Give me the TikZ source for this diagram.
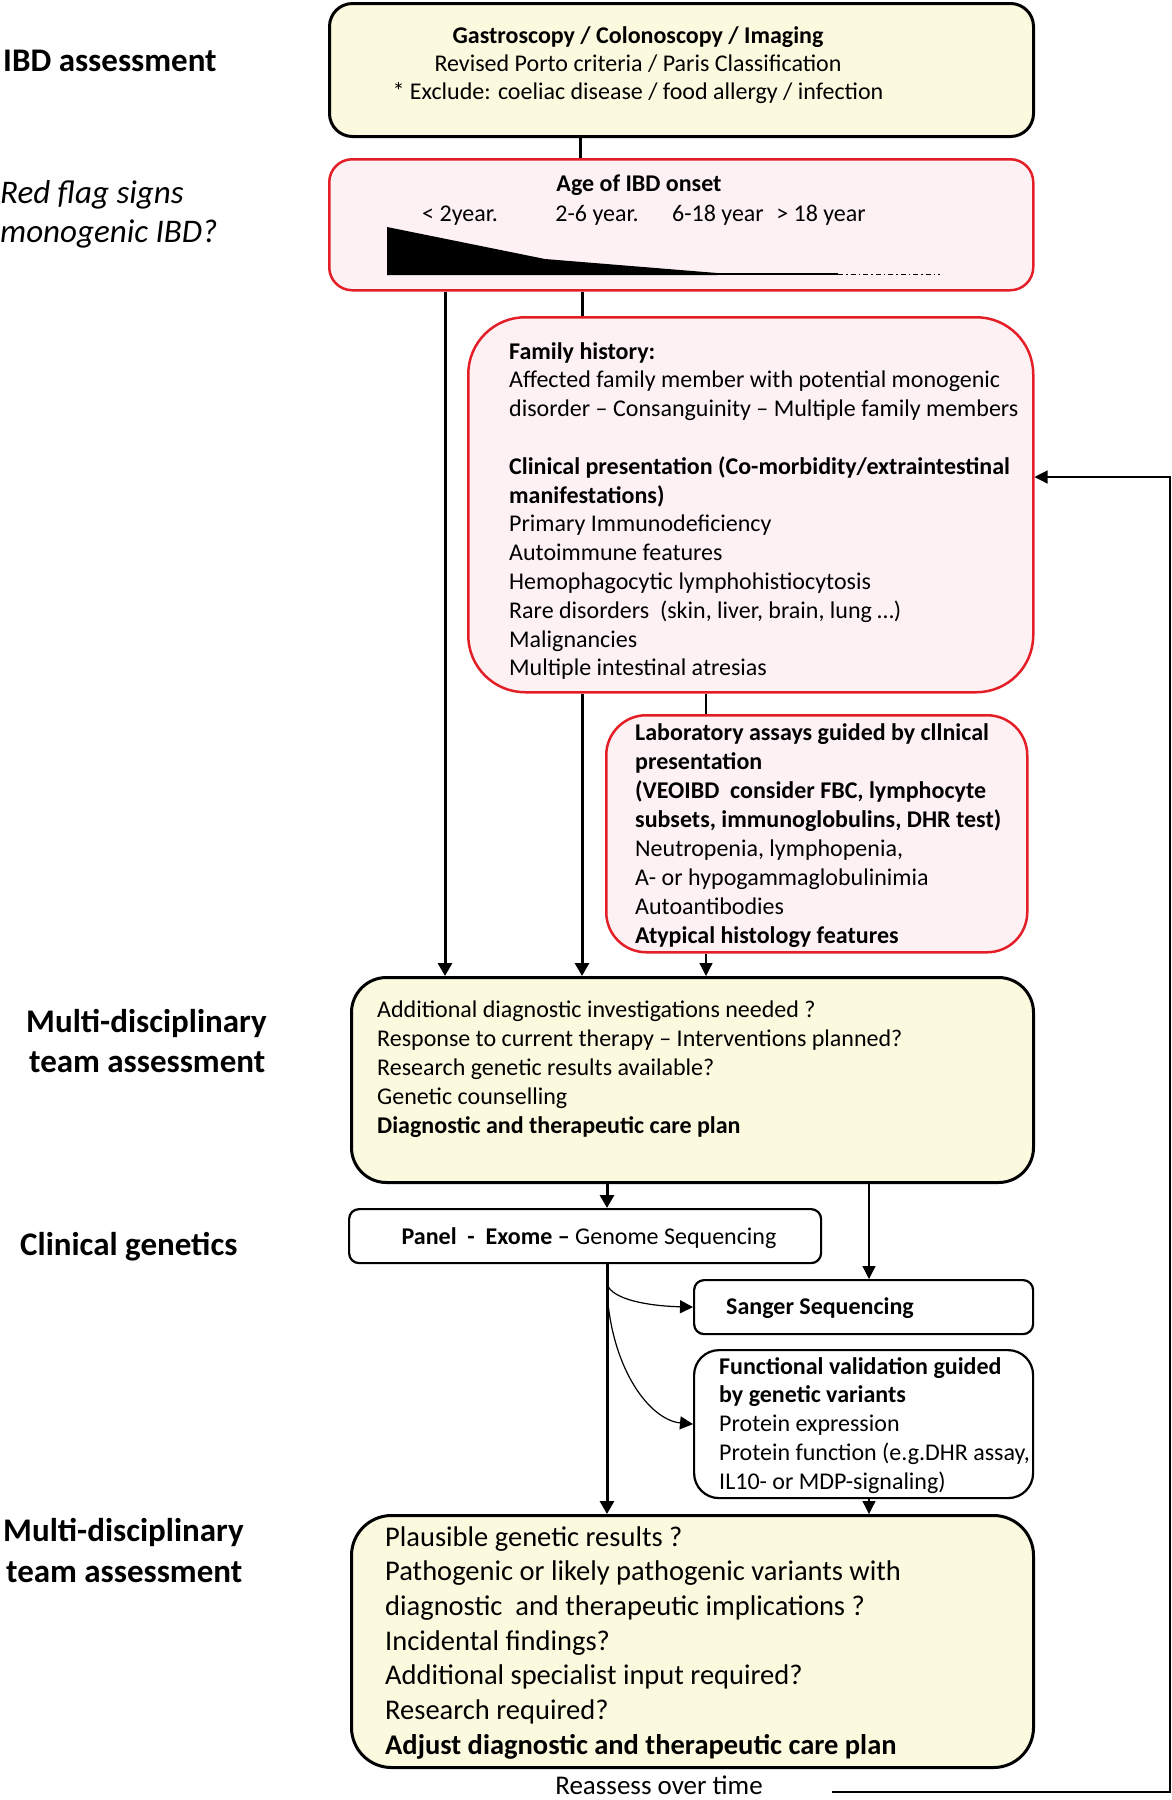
\documentclass[tikz,border=0pt]{standalone}
\usepackage{fontspec}
\setmainfont{Carlito}
\usetikzlibrary{arrows.meta}
\definecolor{cream}{RGB}{251,249,222}
\definecolor{pinkfill}{RGB}{253,241,244}
\definecolor{redline}{RGB}{228,30,38}
\begin{document}
\begin{tikzpicture}[x=1pt,y=-1pt,
  ybox/.style={draw=black, line width=3pt, fill=cream, inner sep=0, anchor=north west},
  rbox/.style={draw=redline, line width=2.5pt, fill=pinkfill, inner sep=0, anchor=north west},
  wbox/.style={draw=black, line width=2.2pt, fill=white, inner sep=0, anchor=north west},
  txt/.style={inner sep=0, anchor=base west, font=\fontsize{24}{28}\selectfont},
  txtS/.style={inner sep=0, anchor=base, font=\fontsize{24}{28}\selectfont},
  txtL/.style={inner sep=0, anchor=base west, font=\fontsize{28.5}{33}\selectfont},
  lbl/.style={inner sep=0, anchor=base west, font=\fontsize{33}{38}\selectfont},
  thickarr/.style={line width=3pt, -{Triangle[length=13pt,width=14pt]}},
  thickln/.style={line width=3pt},
  thinarr/.style={line width=1.2pt, -{Triangle[length=13pt,width=13pt]}},
  thinln/.style={line width=1.2pt}]
\useasboundingbox (0,0) rectangle (1172,1800);

% columns
\coordinate (colA) at (445,0);
\coordinate (colB) at (582,0);
\coordinate (colC) at (706,0);
\coordinate (colD) at (607,0);
\coordinate (colE) at (869,0);
\coordinate (colF) at (580,0);

% boxes
\node[ybox, rounded corners=23pt, minimum width=704pt, minimum height=133pt] (b1) at (328,2) {};
\node[rbox, rounded corners=23pt, minimum width=704pt, minimum height=131pt] (b2) at (328,158) {};
\node[rbox, rounded corners=57pt, minimum width=565pt, minimum height=375pt] (fam) at (467,316) {};
\node[rbox, rounded corners=40pt, minimum width=421pt, minimum height=237pt] (lab) at (605,714) {};
\node[ybox, rounded corners=35pt, minimum width=682pt, minimum height=205pt] (mdt1) at (350,976) {};
\node[wbox, rounded corners=10pt, minimum width=472pt, minimum height=54pt] (panel) at (348,1208) {};
\node[wbox, rounded corners=10pt, minimum width=339pt, minimum height=54pt] (sanger) at (693,1279) {};
\node[wbox, rounded corners=25pt, minimum width=339pt, minimum height=148pt] (func) at (693,1349) {};
\node[ybox, rounded corners=40pt, minimum width=682pt, minimum height=252pt] (mdt2) at (350,1514) {};

% left labels
\node[lbl] (l1) at (3,71) {\bfseries IBD assessment};
\node[lbl] (l2a) at (0,203) {\itshape Red flag signs};
\node[lbl] (l2b) at (0,242) {\itshape monogenic IBD?};
\node[lbl] (l3a) at (26,1032) {\bfseries Multi-disciplinary};
\node[lbl] (l3b) at (29,1072) {\bfseries team assessment};
\node[lbl] (l4) at (20,1255) {\bfseries Clinical genetics};
\node[lbl] (l5a) at (3,1541) {\bfseries Multi-disciplinary};
\node[lbl] (l5b) at (6,1582) {\bfseries team assessment};

% box 1 text
\node[txtS] (t1a) at (638,43) {\bfseries Gastroscopy / Colonoscopy / Imaging};
\node[txtS] (t1b) at (638,71) {Revised Porto criteria / Paris Classification};
\node[txtS] (t1c) at (638,99) {* Exclude: coeliac disease / food allergy / infection};

% box 2 text
\node[txtS] (t2a) at (639,191) {\bfseries Age of IBD onset};
\node[txtS] (t2b) at (460,221) {< 2year.};
\node[txtS] (t2c) at (597,221) {2-6 year.};
\node[txtS] (t2d) at (718,221) {6-18 year};
\node[txtS] (t2e) at (821,221) {> 18 year};
\fill (387,227) -- (545,259) -- (717,273) -- (717,275) -- (387,275) -- cycle;
\draw[line width=1.8pt] (716,274) -- (838,274);
\draw[line width=1pt, dash pattern=on 5pt off 3pt on 1.5pt off 3pt] (838,274) -- (940,274);

% family box text
\foreach \t [count=\i] in {{\bfseries Family history:},
  {Affected family member with potential monogenic},
  {disorder – Consanguinity – Multiple family members}}
  \node[txt] (fa\i) at (509,{359+(\i-1)*28.8}) {\t};
\foreach \t [count=\i] in {{\bfseries Clinical presentation (Co-morbidity/extraintestinal},
  {\bfseries manifestations)},
  {Primary Immunodeficiency},
  {Autoimmune features},
  {Hemophagocytic lymphohistiocytosis},
  {Rare disorders\ \ (skin, liver, brain, lung …)},
  {Malignancies},
  {Multiple intestinal atresias}}
  \node[txt] (fb\i) at (509,{474.2+(\i-1)*28.8}) {\t};

% lab box text
\foreach \t [count=\i] in {{\bfseries Laboratory assays guided by cllnical},
  {\bfseries presentation},
  {\bfseries (VEOIBD\ \ consider FBC, lymphocyte},
  {\bfseries subsets, immunoglobulins, DHR test)},
  {Neutropenia, lymphopenia,},
  {A- or hypogammaglobulinimia},
  {Autoantibodies},
  {\bfseries Atypical histology features}}
  \node[txt] (la\i) at (635,{740+(\i-1)*29}) {\t};

% mdt1 text
\foreach \t [count=\i] in {{Additional diagnostic investigations needed ?},
  {Response to current therapy – Interventions planned?},
  {Research genetic results available?},
  {Genetic counselling},
  {\bfseries Diagnostic and therapeutic care plan}}
  \node[txt] (ma\i) at (377,{1017+(\i-1)*29}) {\t};

% panel, sanger, functional
\node[txt, anchor=base] (pt) at (589,1244) {\textbf{Panel\ \ -\ \ Exome –} Genome Sequencing};
\node[txt] (st) at (726,1314) {\bfseries Sanger Sequencing};
\foreach \t [count=\i] in {{\bfseries Functional validation guided},
  {\bfseries by genetic variants},
  {Protein expression},
  {Protein function (e.g.DHR assay,},
  {IL10- or MDP-signaling)}}
  \node[txt] (fu\i) at (719,{1374+(\i-1)*28.75}) {\t};

% mdt2 text
\foreach \t [count=\i] in {{Plausible genetic results ?},
  {Pathogenic or likely pathogenic variants with},
  {diagnostic\ \ and therapeutic implications ?},
  {Incidental findings?},
  {Additional specialist input required?},
  {Research required?},
  {\bfseries Adjust diagnostic and therapeutic care plan}}
  \node[txtL] (mb\i) at (385,{1546+(\i-1)*34.7}) {\t};

\node[txt, anchor=base, font=\fontsize{27}{31}\selectfont] (reassess) at (659,1794) {Reassess over time};

% connectors
\draw[thickln] (b1.south -| colF) -- (b2.north -| colF);
\draw[thickarr] (b2.south -| colA) -- (mdt1.north -| colA);
\draw[thickln] (b2.south -| colB) -- (fam.north -| colB);
\draw[thickarr] (fam.south -| colB) -- (mdt1.north -| colB);
\draw[thinln] (fam.south -| colC) -- (lab.north -| colC);
\draw[thinarr] (lab.south -| colC) -- (mdt1.north -| colC);
\draw[thickarr] (mdt1.south -| colD) -- (panel.north -| colD);
\draw[thinarr] (mdt1.south -| colE) -- (sanger.north -| colE);
\draw[thickarr] (panel.south -| colD) -- (mdt2.north -| colD);
\draw[thinarr] (func.south -| colE) -- (mdt2.north -| colE);

\coordinate (s1) at (607,1284);
\coordinate (s2) at (607,1292);
\draw[thinarr] (s1) .. controls (612,1300) and (650,1306) .. (sanger.west);
\draw[thinarr] (s2) .. controls (612,1370) and (650,1420) .. (func.west);

\coordinate (fbA) at (832,1792);
\coordinate (fbC) at (1170,1792);
\coordinate (fbY) at (0,477);
\draw[thinarr] (fbA) -- (fbC) |- (fam.east |- fbY);
\end{tikzpicture}
\end{document}
